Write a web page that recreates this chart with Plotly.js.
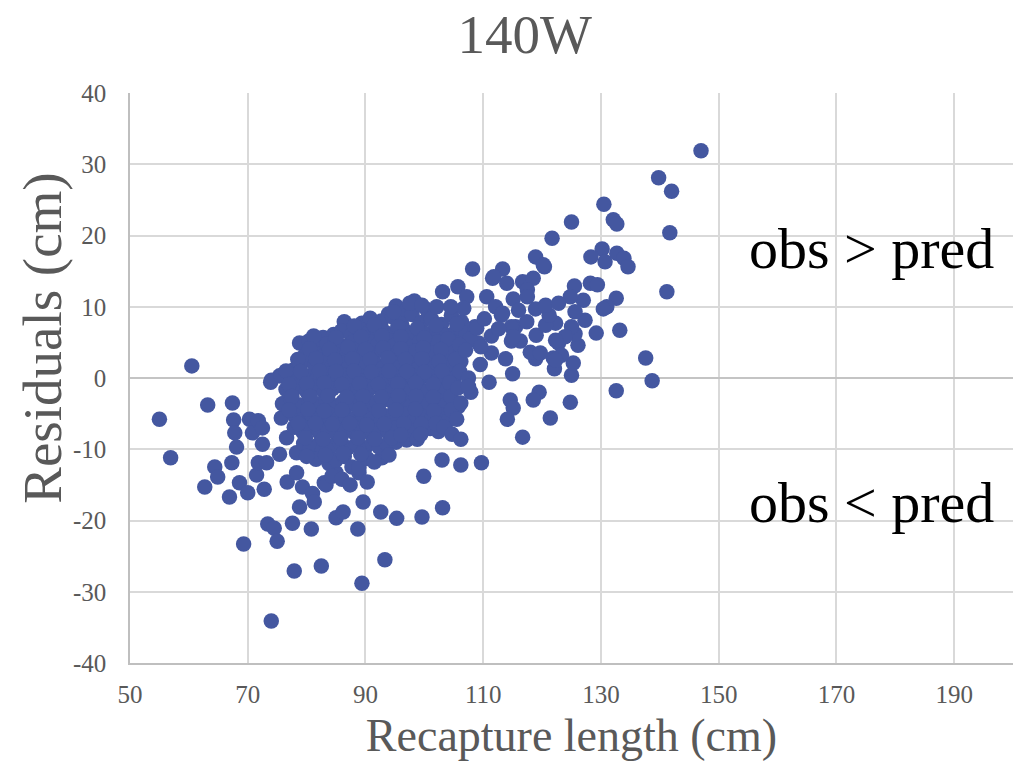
<!DOCTYPE html>
<html><head><meta charset="utf-8">
<script src="https://cdn.plot.ly/plotly-3.0.1.min.js"></script>
<style>html,body{margin:0;padding:0;background:#fff}#chart{width:1020px;height:761px}</style>
</head><body><div id="chart"></div>
<script>
// Tick values
const xTickVals = [50, 70, 90, 110, 130, 150, 170, 190];
const yTickVals = [-40, -30, -20, -10, 0, 10, 20, 30, 40];

// [recapture length (cm), residual (cm)]
const leftTail = [
  [55.0,-5.8],[56.9,-11.2],[60.5,1.7],[62.7,-15.3],[63.2,-3.8],[64.4,-12.5],[64.9,-13.9],[66.9,-16.7],
  [67.3,-11.9],[67.4,-3.5],[67.6,-5.9],[67.8,-7.7],[68.1,-9.7],[68.6,-14.7],[69.3,-23.3],[70.0,-16.1],
  [70.3,-5.8],[70.8,-7.7],[71.5,-13.6],[71.8,-6.0],[71.8,-11.9],[72.5,-7.0],[72.5,-9.3],[72.8,-15.6],
  [73.2,-11.9],[73.4,-20.5],[73.9,-0.6],[74.0,-34.1],[74.5,-21.1],[75.0,-22.9],[75.4,0.3],[75.4,-10.7],
  [75.7,-5.6],[76.1,-3.6],[76.6,-8.4],[76.7,-14.6],[77.6,-20.4],[77.7,1.1],[77.9,-27.1],[78.3,-13.3]
];

const lowerTail = [
  [78.8,-18.1],[79.3,-15.3],[80.8,-21.2],[81.0,-16.2],[81.3,-17.4],[82.5,-26.4],[83.0,-14.7],[83.3,-15.0],
  [85.0,-13.3],[85.0,-19.6],[86.2,-18.8],[88.7,-21.2],[88.9,-13.3],[89.4,-28.8],[89.6,-17.4],[90.3,-14.6],
  [92.6,-18.8],[93.3,-25.5],[95.3,-19.7],[99.6,-19.5],[99.9,-13.8],[103.0,-11.5],[103.1,-18.2],[106.2,-12.2],
  [109.7,-11.9],[92.8,-11.2]
];

const cluster = [
  [95.2,10.1],[96.8,9.4],[98.3,10.8],[100.4,9.6],[93.9,9.0],
  [86.4,7.9],[89.4,7.7],[90.8,8.4],[92.7,8.0],[94.6,8.6],[96.1,7.6],[97.9,8.9],[99.5,7.8],[101.2,8.3],[102.9,7.5],[104.6,8.8],[106.3,7.9],
  [82.8,5.7],[84.6,6.1],[85.9,6.6],[87.6,6.0],[88.9,6.9],[90.5,6.3],[91.8,7.0],[93.2,6.5],[94.9,6.2],[96.4,6.9],[97.8,6.1],[99.1,6.7],[100.7,6.2],[102.2,6.8],[103.8,6.0],[105.4,6.6],[107.1,6.3],[108.6,7.2],
  [78.8,4.9],[80.4,5.2],[81.9,4.6],[83.5,4.8],[84.9,5.3],[86.3,4.5],[87.8,5.0],[89.2,4.4],[90.7,5.1],[92.1,4.7],[93.6,5.4],[95.0,4.6],[96.5,5.0],[97.9,4.3],[99.3,5.2],[100.8,4.6],[102.3,5.1],[103.7,4.4],[105.2,5.0],[106.8,4.2],[109.2,4.9],
  [79.6,3.1],[81.1,3.6],[82.6,2.9],[84.0,3.5],[85.5,3.2],[86.9,3.8],[88.4,3.0],[89.8,3.6],[91.3,3.3],[92.8,3.9],[94.2,3.1],[95.7,3.7],[97.1,3.2],[98.6,3.8],[100.0,3.0],[101.5,3.5],[103.0,3.1],[104.4,3.7],[105.9,3.0],
  [77.9,1.1],[79.9,2.5],[81.4,1.8],[82.9,2.2],[84.3,1.6],[85.8,2.1],[87.2,1.5],[88.7,2.3],[90.1,1.7],[91.6,2.0],[93.0,1.4],[94.5,2.2],[96.0,1.6],[97.4,2.1],[98.9,1.3],[100.3,2.0],[101.8,1.5],[103.3,2.5],[104.7,1.8],[106.2,2.3],
  [74.0,-0.3],[75.7,0.3],[77.2,0.5],[78.8,-0.4],[80.3,0.2],[81.8,-0.1],[83.2,0.6],[84.7,-0.2],[86.1,0.4],[87.6,-0.5],[89.0,0.3],[90.5,-0.1],[92.0,0.5],[93.4,-0.3],[94.9,0.2],[96.3,-0.4],[97.8,0.4],[99.2,-0.2],[100.7,0.3],[102.1,-0.5],[103.6,0.1],[105.0,-0.2],
  [76.5,-1.6],[78.8,-1.2],[80.0,-1.9],[81.5,-1.3],[83.0,-2.0],[84.4,-1.5],[85.9,-1.1],[87.3,-1.8],[88.8,-1.4],[90.2,-2.1],[91.7,-1.2],[93.1,-1.7],[94.6,-2.0],[96.0,-1.3],[97.5,-1.8],[98.9,-1.1],[100.4,-1.9],[101.8,-1.4],[103.3,-2.0],[104.8,-1.2],
  [75.9,-3.6],[77.4,-3.0],[78.9,-3.8],[80.4,-3.2],[81.8,-3.7],[83.3,-3.1],[84.7,-3.9],[86.2,-3.3],[87.6,-3.6],[89.1,-3.0],[90.5,-3.8],[92.0,-3.4],[93.4,-3.0],[94.9,-3.7],[96.3,-3.2],[97.8,-3.9],[99.2,-3.3],[100.7,-3.6],[102.1,-3.1],[103.6,-3.8],[105.8,-4.0],
  [77.9,-5.2],[79.4,-5.8],[80.8,-5.1],[82.3,-5.6],[83.7,-5.0],[85.2,-5.9],[86.6,-5.3],[88.1,-5.7],[89.5,-5.1],[91.0,-5.8],[92.6,-6.2],[94.0,-5.3],[95.4,-5.7],[96.9,-5.1],[98.3,-5.9],[99.8,-5.4],[101.2,-5.7],[102.7,-5.2],[104.2,-5.9],
  [77.9,-6.9],[79.3,-7.5],[80.7,-7.0],[82.2,-7.7],[83.6,-7.2],[85.1,-7.9],[86.5,-7.3],[88.0,-7.6],[89.4,-7.0],[90.9,-7.8],[92.3,-7.2],[93.8,-7.6],[95.2,-7.0],[97.7,-7.4],[101.0,-7.1],[102.4,-7.5],
  [78.3,-10.5],[79.5,-9.2],[80.5,-10.1],[81.9,-9.4],[82.7,-10.1],[84.2,-9.6],[85.6,-9.0],[87.0,-9.8],[88.5,-9.3],[89.9,-9.9],[91.2,-9.1],[92.3,-9.7],[93.7,-9.3],[95.2,-9.0],
  [81.6,-11.4],[83.8,-12.0],[85.0,-11.5],[86.4,-11.0],[87.7,-12.5],[88.9,-12.6],[90.3,-11.3],[91.5,-11.8],
  [84.3,-13.8],[86.0,-14.2],[87.4,-15.0]
];

const clusterFill = [
  [88.1,7.3],[91.5,7.4],[95.5,7.2],[98.8,7.0],[102.0,7.4],[105.5,7.6],
  [81.2,5.9],[85.0,5.7],[89.3,5.8],[92.8,5.9],[96.0,5.8],[100.0,5.6],[104.0,5.5],[107.8,5.5],
  [80.5,4.1],[83.9,4.0],[87.0,4.3],[90.0,4.0],[93.0,4.2],[96.0,4.1],[99.8,4.2],[102.8,4.0],[106.0,4.6],
  [78.5,2.6],[81.6,2.7],[84.8,2.5],[87.8,2.7],[90.8,2.6],[93.8,2.8],[96.8,2.6],[99.6,2.7],[102.5,2.3],[105.3,2.6],
  [76.5,1.0],[79.0,0.9],[82.2,1.0],[85.0,0.9],[88.0,1.0],[91.0,0.8],[94.0,1.0],[97.0,0.9],[100.0,0.8],[103.0,1.0],[106.0,0.9],
  [77.0,-0.9],[80.0,-0.8],[83.0,-0.7],[86.0,-0.9],[89.0,-0.8],[92.2,-0.9],[95.5,-0.8],[98.5,-0.7],[101.5,-0.9],[104.3,-0.7],
  [77.5,-2.6],[80.6,-2.6],[83.6,-2.5],[86.8,-2.7],[89.6,-2.6],[92.7,-2.7],[95.6,-2.5],[98.6,-2.6],[101.5,-2.7],[104.5,-2.6],
  [77.0,-4.5],[80.2,-4.4],[83.0,-4.6],[86.0,-4.5],[89.0,-4.4],[92.3,-4.6],[95.2,-4.5],[98.5,-4.4],[101.6,-4.6],[104.6,-4.5],
  [78.6,-6.4],[81.5,-6.4],[84.4,-6.5],[87.3,-6.4],[90.2,-6.6],[93.2,-6.5],[96.5,-6.4],[99.5,-6.5],[102.0,-6.4],
  [79.8,-8.4],[82.8,-8.6],[85.8,-8.5],[88.7,-8.4],[91.6,-8.6],[94.5,-8.4],[97.0,-8.7],[98.8,-8.6],
  [80.0,-11.0],[83.2,-10.8],[86.2,-10.6],[89.2,-10.7],[94.0,-10.8]
];

const rightMid = [
  [129.2,6.3],[133.2,6.7],[137.6,2.8],[138.7,-0.4],[132.6,-1.8],[124.8,-3.4],[121.4,-5.6],[116.7,-8.3],
  [119.5,-2.0],[118.5,-3.1],[114.6,-3.1],[115.1,-4.2],[114.1,-5.8],[115.0,0.6],[125.0,0.4],[125.3,2.1],
  [122.1,1.3],[121.9,2.8],[118.9,2.7],[118.0,3.6],[119.7,3.5],[113.8,2.7],[111.4,3.5],[109.6,4.4],
  [107.0,3.9],[111.4,5.9],[108.9,7.0],[119.0,6.0],[115.5,7.2],[116.3,5.2],[114.8,5.2],[122.3,7.7],
  [122.8,4.9],[126.1,4.6],[125.6,6.2],[123.3,3.2],[107.5,0.0],[105.7,-1.4],[107.9,-2.0],[106.2,-3.5],
  [105.5,-5.8],[103.3,-6.9],[104.7,-7.9],[106.2,-8.6],[99.4,-7.9],[96.0,-8.0],[120.6,7.4],[125.0,7.2],
  [123.9,5.8],[113.1,8.8],[114.8,7.2],[115.1,5.8],[122.3,5.3],[122.3,2.5],[107.5,-1.2],[110.2,8.3],
  [112.6,6.9],[117.4,7.9],[121.2,8.8],[127.3,8.1],[109.5,1.9],[111.0,-0.6]
];

const upperTail = [
  [147.0,31.9],[139.8,28.1],[142.0,26.2],[130.5,24.4],[132.1,22.2],[132.7,21.6],[125.0,21.9],[141.7,20.4],
  [121.7,19.6],[130.2,18.1],[128.3,17.0],[130.7,16.3],[132.7,17.5],[133.9,16.8],[134.6,15.6],[118.9,17.0],
  [120.4,15.6],[108.2,15.3],[113.3,15.3],[111.6,14.0],[114.0,13.3],[116.7,13.5],[118.5,14.0],[117.5,12.4],
  [125.5,12.9],[128.2,13.3],[129.4,13.1],[141.2,12.1],[132.6,11.2],[131.0,10.0],[130.4,9.7],[127.0,10.9],
  [124.8,11.4],[103.1,12.1],[105.7,12.8],[107.2,11.4],[110.6,11.4],[115.1,11.1],[117.5,11.4],[112.1,10.0],
  [113.3,9.1],[116.0,9.5],[118.9,9.7],[120.6,10.2],[122.8,10.5],[125.6,9.3],[97.5,10.5],[99.6,10.2],
  [102.1,10.0],[106.7,9.8],[94.8,9.3],[104.5,10.0],[111.8,14.2],[120.2,15.9]
];

const allPoints = [].concat(leftTail, lowerTail, cluster, clusterFill, rightMid, upperTail);
const recaptureLength = allPoints.map(p => p[0]);
const residuals = allPoints.map(p => p[1]);

const GRAY = '#595959';
const SERIF = '"Liberation Serif", "Times New Roman", serif';

const trace = {
  type: 'scatter', mode: 'markers',
  x: recaptureLength, y: residuals,
  marker: {color: '#4457a0', size: 15.5, line: {width: 0}},
  hoverinfo: 'x+y', showlegend: false
};

const layout = {
  width: 1020, height: 761,
  margin: {l: 130, r: 7, t: 93, b: 98, pad: 0},
  paper_bgcolor: '#ffffff', plot_bgcolor: '#ffffff',
  title: {text: '140W', font: {family: SERIF, size: 55, color: GRAY},
          xref: 'paper', x: 0.447, xanchor: 'center', yref: 'container', y: 0.955, yanchor: 'middle'},
  xaxis: {
    range: [50, 200], tickvals: xTickVals, ticktext: xTickVals.map(String),
    showgrid: true, gridcolor: '#d9d9d9', gridwidth: 1.5,
    showline: true, linecolor: '#bfbfbf', linewidth: 1.5,
    zeroline: false, ticks: '', ticklabelstandoff: 8,
    tickfont: {family: SERIF, size: 25, color: GRAY},
    title: {text: 'Recapture length (cm)', font: {family: SERIF, size: 46, color: GRAY}, standoff: 20},
    automargin: false, fixedrange: true
  },
  yaxis: {
    range: [-40, 40], tickvals: yTickVals, ticktext: yTickVals.map(String),
    showgrid: true, gridcolor: '#d9d9d9', gridwidth: 1.5,
    showline: true, linecolor: '#bfbfbf', linewidth: 1.5,
    zeroline: true, zerolinecolor: '#c4c4c4', zerolinewidth: 1.5,
    ticks: '', ticklabelstandoff: 17,
    tickfont: {family: SERIF, size: 25, color: GRAY},
    automargin: false, fixedrange: true
  },
  annotations: [
    {text: 'Residuals (cm)', textangle: -90, xref: 'paper', yref: 'paper',
     x: -0.1, y: 0.57, xanchor: 'center', yanchor: 'middle', showarrow: false,
     font: {family: SERIF, size: 55, color: GRAY}},
    {text: 'obs &gt; pred', xref: 'x', yref: 'y', x: 175.9, y: 18.2, showarrow: false,
     xanchor: 'center', yanchor: 'middle', font: {family: SERIF, size: 58, color: '#000000'}},
    {text: 'obs &lt; pred', xref: 'x', yref: 'y', x: 175.9, y: -17.5, showarrow: false,
     xanchor: 'center', yanchor: 'middle', font: {family: SERIF, size: 58, color: '#000000'}}
  ]
};

Plotly.newPlot('chart', [trace], layout, {displayModeBar: false});
</script></body></html>
